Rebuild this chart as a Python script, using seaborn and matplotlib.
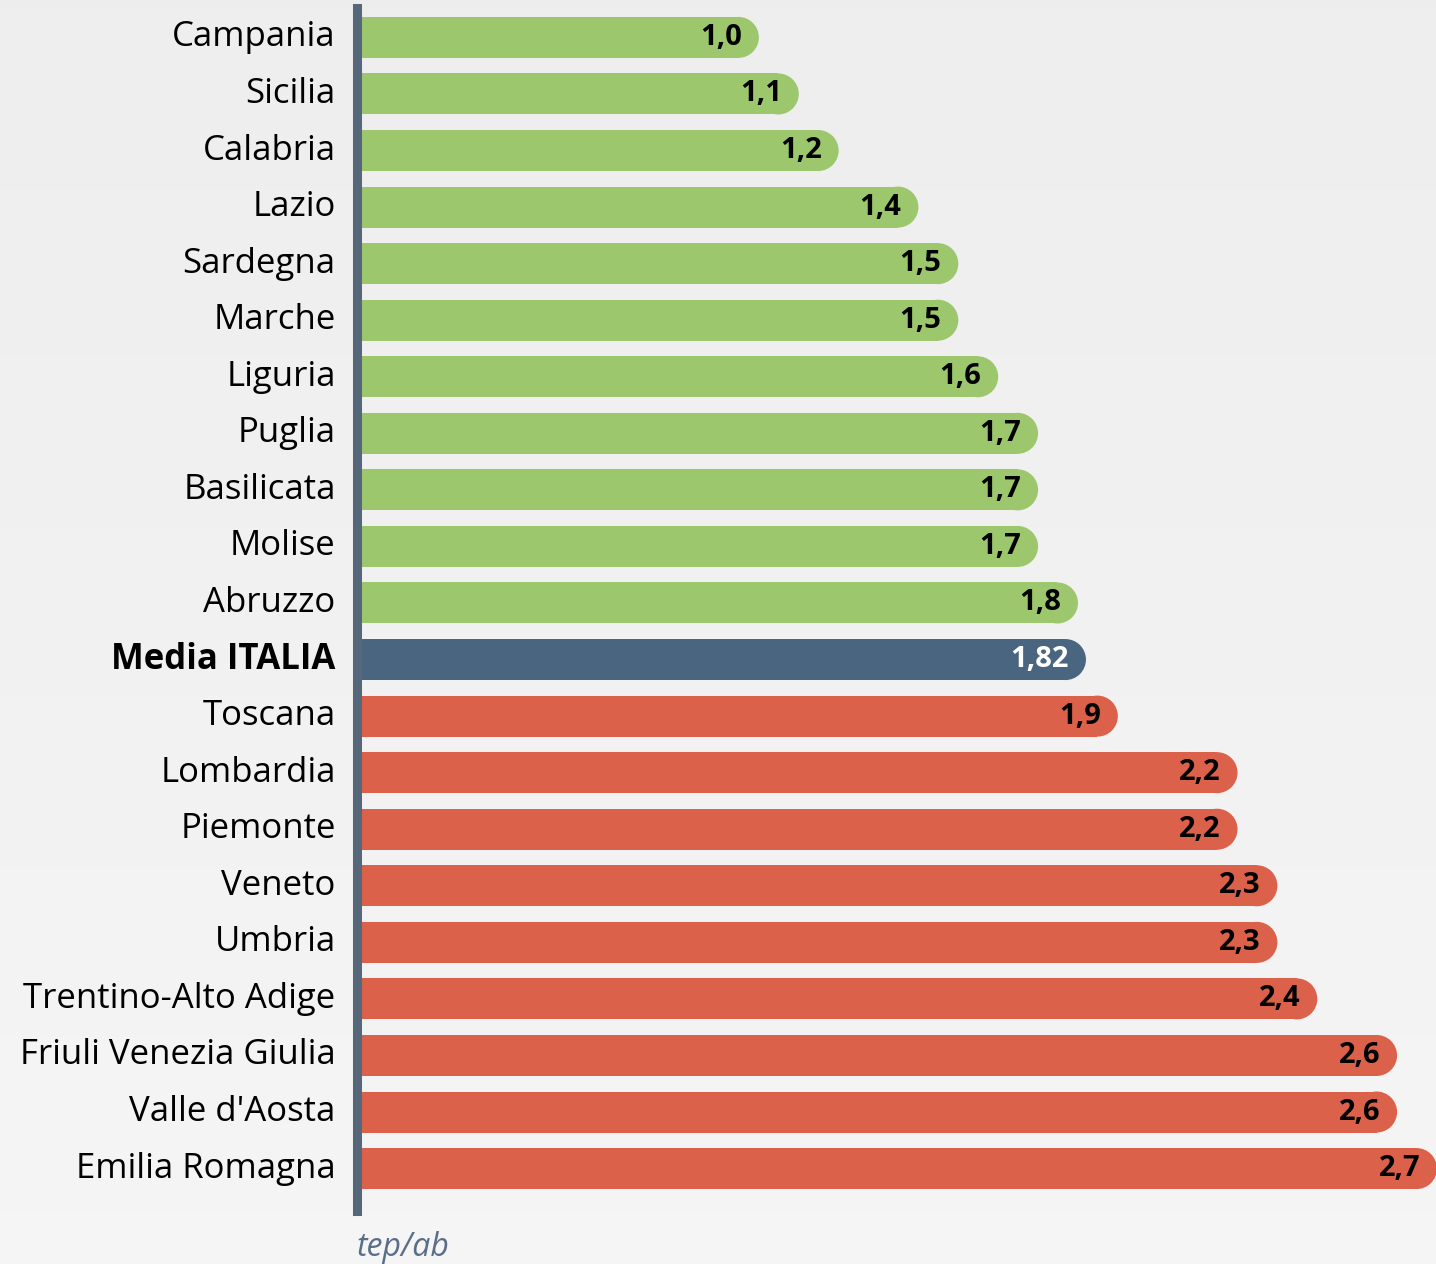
import numpy as np
import pandas as pd
import seaborn as sns
import matplotlib.pyplot as plt
from matplotlib.patches import Ellipse
from matplotlib.transforms import ScaledTranslation

regioni = ['Campania', 'Sicilia', 'Calabria', 'Lazio', 'Sardegna', 'Marche',
           'Liguria', 'Puglia', 'Basilicata', 'Molise', 'Abruzzo', 'Media ITALIA',
           'Toscana', 'Lombardia', 'Piemonte', 'Veneto', 'Umbria',
           'Trentino-Alto Adige', 'Friuli Venezia Giulia', "Valle d'Aosta",
           'Emilia Romagna']
valori = [1.0, 1.1, 1.2, 1.4, 1.5, 1.5, 1.6, 1.7, 1.7, 1.7, 1.8, 1.82,
          1.9, 2.2, 2.2, 2.3, 2.3, 2.4, 2.6, 2.6, 2.7]
media_label = 'Media ITALIA'
unita = 'tep/ab'

VERDE = '#9dc76c'
ROSSO = '#dc614a'
BLU = '#4a6580'
ASSE = '#56677a'

sns.set_style('white')
plt.rcParams['font.family'] = ['Open Sans', 'DejaVu Sans']

df = pd.DataFrame({'regione': regioni, 'valore': valori})
media = df.loc[df.regione == media_label, 'valore'].iloc[0]
colori = [BLU if r == media_label else (VERDE if v < media else ROSSO)
          for r, v in zip(regioni, valori)]

W, H = 1436, 1264
fig = plt.figure(figsize=(W / 100, H / 100), dpi=100)

# light vertical gradient background
bg = fig.add_axes([0, 0, 1, 1], zorder=0)
grad = np.linspace(0.933, 0.962, 256).reshape(-1, 1)
bg.imshow(np.dstack([grad, grad, grad]), aspect='auto', extent=(0, 1, 0, 1))
bg.axis('off')

left, right, top, bottom = 356.5, 1436, 8, 1211
ax = fig.add_axes([left / W, 1 - bottom / H, (right - left) / W, (bottom - top) / H], zorder=1)
ax.set_facecolor('none')

sns.barplot(data=df, x='valore', y='regione', hue='regione', palette=colori,
            legend=False, width=0.725, saturation=1, ax=ax, orient='h')

ax.set_xlim(-0.0088, 2.6976)
ax.set_ylim(20.75, -0.52)

# round the right ends of the bars with a half-circle cap
px_x = ax.transData.transform((1, 0))[0] - ax.transData.transform((0, 0))[0]
px_y = abs(ax.transData.transform((0, 1))[1] - ax.transData.transform((0, 0))[1])
for p in list(ax.patches):
    x0, y0 = p.get_x(), p.get_y()
    w, h = p.get_width(), p.get_height()
    r = (h / 2) * px_y / px_x
    cap = Ellipse((x0 + w - r, y0 + h / 2), 2 * r, h,
                  facecolor=p.get_facecolor(), edgecolor='none', linewidth=0)
    ax.add_patch(cap)
    p.set_width(w - r)
    p.set_edgecolor('none')

off = 17 / px_x
for i, (r, v) in enumerate(zip(regioni, valori)):
    testo = (f'{v:.2f}' if r == media_label else f'{v:.1f}').replace('.', ',')
    ax.text(v - off, i, testo, ha='right', va='center', fontsize=21,
            fontweight='bold', color='white' if r == media_label else 'black')

for s in ['top', 'right', 'bottom']:
    ax.spines[s].set_visible(False)
ax.spines['left'].set_color(ASSE)
ax.spines['left'].set_linewidth(6.5)
ax.set_xticks([])
ax.set_xlabel('')
ax.set_ylabel('')
ax.tick_params(axis='y', length=0, pad=15, labelsize=25, labelcolor='black')
shift = ScaledTranslation(0, 4 / 100, fig.dpi_scale_trans)
for lab in ax.get_yticklabels():
    lab.set_transform(lab.get_transform() + shift)
    if lab.get_text() == media_label:
        lab.set_fontweight('bold')

fig.text(357 / W, 1 - 1256 / H, unita, fontsize=23, style='italic',
         color='#5a6e88', va='baseline', ha='left')

plt.savefig('out.png', dpi=100)
